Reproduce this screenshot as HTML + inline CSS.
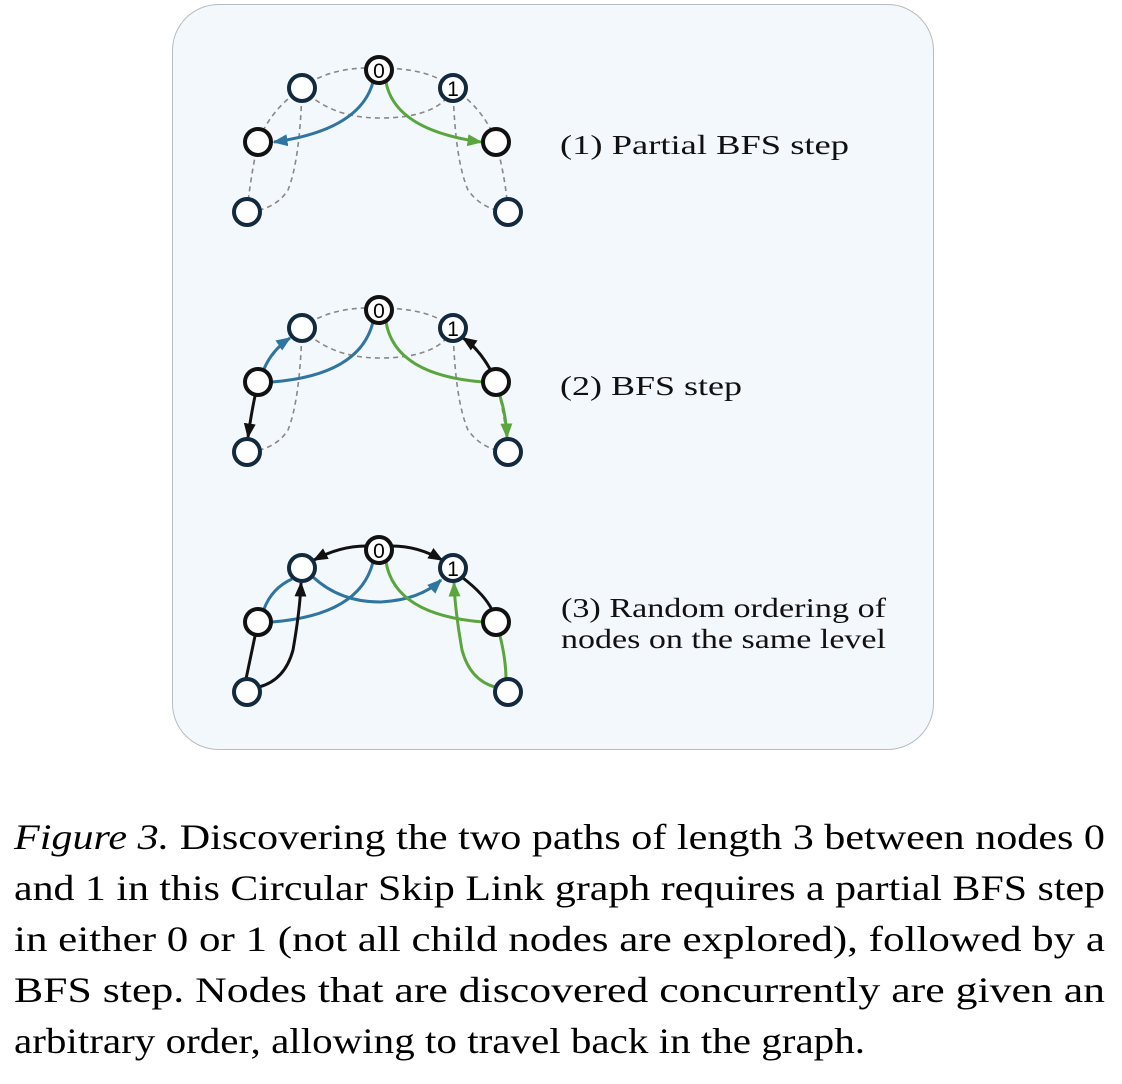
<!DOCTYPE html>
<html><head><meta charset="utf-8"><style>
html,body{margin:0;padding:0;background:#fff;}
svg{display:block;}
</style></head><body>
<svg width="1122" height="1084" viewBox="0 0 1122 1084" xmlns="http://www.w3.org/2000/svg">
<defs>
<marker id="ab" viewBox="0 0 10 10" refX="9" refY="5" markerWidth="15" markerHeight="15" orient="auto" markerUnits="userSpaceOnUse"><path d="M0,1 L10,5 L0,9 z" fill="#2e75a0"/></marker>
<marker id="ag" viewBox="0 0 10 10" refX="9" refY="5" markerWidth="15" markerHeight="15" orient="auto" markerUnits="userSpaceOnUse"><path d="M0,1 L10,5 L0,9 z" fill="#5aa63c"/></marker>
<marker id="ak" viewBox="0 0 10 10" refX="9" refY="5" markerWidth="15" markerHeight="15" orient="auto" markerUnits="userSpaceOnUse"><path d="M0,1 L10,5 L0,9 z" fill="#111"/></marker>
</defs>
<rect x="172.5" y="4.5" width="761" height="745" rx="46" fill="#f3f8fc" stroke="#b8bcc0" stroke-width="1"/>

<g id="dash" fill="none" stroke="#888" stroke-width="1.6" stroke-dasharray="5,4">
  <path d="M302,88 Q330,66 379,68"/>
  <path d="M379,68 Q430,68 453,88"/>
  <path d="M302,88 Q330,118 380,118 Q440,118 453,88"/>
  <path d="M302,88 Q270,110 258,142"/>
  <path d="M258,142 Q250,180 247,212"/>
  <path d="M302,88 Q300,160 288,190 Q275,210 247,212"/>
  <path d="M453,88 Q485,110 496,142"/>
  <path d="M496,142 Q506,180 508,212"/>
  <path d="M453,88 Q455,160 468,190 Q482,210 508,212"/>
</g>

<g>
  <path d="M373,82 Q360,130 274,142" fill="none" stroke="#2e75a0" stroke-width="3" marker-end="url(#ab)"/>
  <path d="M386,82 Q395,130 481,142" fill="none" stroke="#5aa63c" stroke-width="3" marker-end="url(#ag)"/>
</g>
<g transform="translate(0,240)">
  <use href="#dash"/>
  <path d="M373,82 Q360,135 272,142" fill="none" stroke="#2e75a0" stroke-width="3"/>
  <path d="M264,129 Q272,110 290,98" fill="none" stroke="#2e75a0" stroke-width="3" marker-end="url(#ab)"/>
  <path d="M386,82 Q395,135 483,142" fill="none" stroke="#5aa63c" stroke-width="3"/>
  <path d="M500,156 Q506,175 507,197" fill="none" stroke="#5aa63c" stroke-width="3" marker-end="url(#ag)"/>
  <path d="M490,129 Q478,108 463,98" fill="none" stroke="#111" stroke-width="3" marker-end="url(#ak)"/>
  <path d="M255,156 Q251,175 248,197" fill="none" stroke="#111" stroke-width="3" marker-end="url(#ak)"/>
</g>
<g transform="translate(0,480)">
  <path d="M366,66 Q340,66 314,80" fill="none" stroke="#111" stroke-width="3" marker-end="url(#ak)"/>
  <path d="M392,66 Q418,66 442,80" fill="none" stroke="#111" stroke-width="3" marker-end="url(#ak)"/>
  <path d="M373,82 Q360,135 272,142" fill="none" stroke="#2e75a0" stroke-width="3"/>
  <path d="M264,129 Q272,108 292,99" fill="none" stroke="#2e75a0" stroke-width="3"/>
  <path d="M313,97 Q340,122 380,122 Q420,120 441,100" fill="none" stroke="#2e75a0" stroke-width="3" marker-end="url(#ab)"/>
  <path d="M386,82 Q395,135 483,142" fill="none" stroke="#5aa63c" stroke-width="3"/>
  <path d="M500,156 Q506,180 506,200" fill="none" stroke="#5aa63c" stroke-width="3"/>
  <path d="M495,207 Q470,200 462,170 Q455,130 454,103" fill="none" stroke="#5aa63c" stroke-width="3" marker-end="url(#ag)"/>
  <path d="M463,98 Q485,115 492,130" fill="none" stroke="#111" stroke-width="3"/>
  <path d="M255,156 Q250,180 246,199" fill="none" stroke="#111" stroke-width="3"/>
  <path d="M259,207 Q285,200 293,170 Q300,130 301,103" fill="none" stroke="#111" stroke-width="3" marker-end="url(#ak)"/>
</g>

<g id="nodes1" fill="#fff" stroke-width="4" font-family="Liberation Sans, sans-serif" font-size="21">
  <circle cx="302" cy="88" r="13" stroke="#13293d"/>
  <circle cx="453" cy="88" r="13" stroke="#13293d"/>
  <circle cx="247" cy="212" r="13" stroke="#13293d"/>
  <circle cx="508" cy="212" r="13" stroke="#13293d"/>
  <circle cx="258" cy="142" r="13" stroke="#111"/>
  <circle cx="496" cy="142" r="13" stroke="#111"/>
  <circle cx="379" cy="70" r="13" stroke="#111"/>
  <text x="379" y="78" text-anchor="middle" fill="#000" stroke="none">0</text>
  <text x="453" y="96" text-anchor="middle" fill="#000" stroke="none">1</text>
</g>
<use href="#nodes1" transform="translate(0,240)"/>
<use href="#nodes1" transform="translate(0,480)"/>

<g font-family="Liberation Serif, serif" font-size="27" fill="#111">
  <text x="560" y="154" textLength="289" lengthAdjust="spacingAndGlyphs">(1) Partial BFS step</text>
  <text x="560" y="395" textLength="182" lengthAdjust="spacingAndGlyphs">(2) BFS step</text>
  <text x="561" y="617" textLength="325" lengthAdjust="spacingAndGlyphs">(3) Random ordering of</text>
  <text x="561" y="648" textLength="325" lengthAdjust="spacingAndGlyphs">nodes on the same level</text>
</g>

<g font-family="Liberation Serif, serif" font-size="36" fill="#000">
  <text x="14" y="849" textLength="1091" lengthAdjust="spacingAndGlyphs"><tspan font-style="italic">Figure 3.</tspan> Discovering the two paths of length 3 between nodes 0</text>
  <text x="14" y="900" textLength="1091" lengthAdjust="spacingAndGlyphs">and 1 in this Circular Skip Link graph requires a partial BFS step</text>
  <text x="14" y="951" textLength="1091" lengthAdjust="spacingAndGlyphs">in either 0 or 1 (not all child nodes are explored), followed by a</text>
  <text x="14" y="1002" textLength="1091" lengthAdjust="spacingAndGlyphs">BFS step.  Nodes that are discovered concurrently are given an</text>
  <text x="14" y="1053" textLength="851" lengthAdjust="spacingAndGlyphs">arbitrary order, allowing to travel back in the graph.</text>
</g>
</svg>
</body></html>
